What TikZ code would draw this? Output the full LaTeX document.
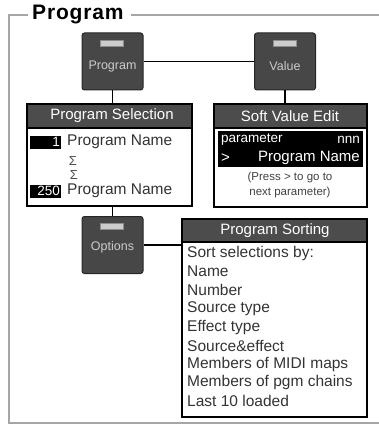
\documentclass[tikz,border=0pt]{standalone}
\usepackage{fontspec}
\setmainfont{Liberation Sans}
\usetikzlibrary{calc}
\begin{document}
\begin{tikzpicture}[x=1pt,y=-1pt,
  frameline/.style={draw=black!35, line width=1.3pt},
  btn/.style={draw=black!85, fill=black!72, rounded corners=2.5pt, line width=1pt, minimum width=61pt, minimum height=57pt, inner sep=0pt},
  slot/.style={fill=black!20, draw=black!45, line width=0.4pt, minimum width=23pt, minimum height=6pt, inner sep=0pt},
  btntext/.style={text=black!20, font=\fontsize{12.5}{13}\selectfont, inner sep=0pt},
  panel/.style={draw=black, line width=1.6pt, inner sep=0pt},
  hdr/.style={fill=black!70},
  hdrtext/.style={text=white, font=\fontsize{15}{16}\selectfont, inner sep=0pt},
  item/.style={anchor=west, inner sep=0pt, text=black!80, font=\fontsize{15.5}{16}\selectfont},
  numbox/.style={fill=black, text=white, minimum width=31pt, minimum height=13pt, inner sep=0pt, align=right, text width=29pt, text height=9.5pt, text depth=0pt, font=\fontsize{13.5}{13}\selectfont},
  small/.style={inner sep=0pt, font=\fontsize{13.5}{14}\selectfont},
  sigma/.style={inner sep=0pt, text=black!70, font=\fontsize{13}{13}\selectfont},
  conn/.style={draw=black, line width=1.3pt}
]
\useasboundingbox (0,0) rectangle (379,425);
% frame
\draw[frameline] (28,15) -- (9,15) -- (9,423) -- (379,423);
\draw[frameline] (131,15) -- (379,15);
\node[anchor=west, inner sep=0pt, font=\bfseries\fontsize{21}{21}\selectfont\addfontfeature{LetterSpace=4}] (title) at (32,15) {Program};

% panels
\node[panel, minimum width=165pt, minimum height=102pt] (psel) at (109.5,155) {};
\node[panel, minimum width=153pt, minimum height=103pt] (sve) at (290.5,155.5) {};
\node[panel, minimum width=185pt, minimum height=198pt] (psort) at (274.5,318) {};

% headers
\fill[hdr] (27,104) rectangle (192,128);
\fill[hdr] (214,104) rectangle (367,128);
\fill[hdr] (182,219) rectangle (367,242);
\draw[black, line width=1.2pt] (27,128) -- (192,128);
\draw[black, line width=1.2pt] (214,128) -- (367,128);
\draw[black, line width=1.2pt] (182,242) -- (367,242);
\node[panel, minimum width=165pt, minimum height=102pt] at (109.5,155) {};
\node[panel, minimum width=153pt, minimum height=103pt] at (290.5,155.5) {};
\node[panel, minimum width=185pt, minimum height=198pt] at (274.5,318) {};
\node[hdrtext] (pselh) at (112,116) {Program Selection};
\node[hdrtext] (sveh) at (290,116) {Soft Value Edit};
\node[hdrtext] (psorth) at (275,231) {Program Sorting};

% program selection content
\node[numbox] (n1) at (45.5,142) {1};
\node[item] (pn1) at (67,142) {Program Name};
\node[sigma] (s1) at (73,161) {Σ};
\node[sigma] (s2) at (74,175) {Σ};
\node[numbox] (n250) at (45.5,191) {250};
\node[item] (pn250) at (67,191) {Program Name};

% soft value edit content
\fill[black] (218,131) rectangle (363,167);
\node[small, anchor=west, text=white] (par) at (221,140) {parameter};
\node[small, anchor=east, text=white] (nnn) at (360,140) {nnn};
\node[anchor=west, inner sep=0pt, text=white, font=\fontsize{15}{16}\selectfont] (gt) at (221,158) {>};
\node[anchor=east, inner sep=0pt, text=white, font=\fontsize{15}{16}\selectfont] (pnv) at (360,158) {Program Name};
\node[small, text=black!75, font=\fontsize{11.5}{12}\selectfont] (press) at (290,178) {(Press > to go to};
\node[small, text=black!75, font=\fontsize{11.5}{12}\selectfont] (next) at (290,193) {next parameter)};

% program sorting content
\node[item] (i0) at (187,253) {Sort selections by:};
\node[item] (i1) at (187,271.5) {Name};
\node[item] (i2) at (187,290) {Number};
\node[item] (i3) at (187,308.5) {Source type};
\node[item] (i4) at (187,327) {Effect type};
\node[item] (i5) at (187,345.5) {Source\&effect};
\node[item] (i6) at (187,364) {Members of MIDI maps};
\node[item] (i7) at (187,382.5) {Members of pgm chains};
\node[item] (i8) at (187,401) {Last 10 loaded};

% buttons
\node[btn] (prog) at (112.5,61.5) {};
\node[btn] (val) at (285,61.5) {};
\node[btn] (opt) at (112.5,245) {};
\node[slot] (slp) at (112,43) {};
\node[slot] (slv) at (285,43) {};
\node[slot] (slo) at (112,226) {};
\node[btntext] (tp) at (112.5,66) {Program};
\node[btntext] (tv) at (285,66) {Value};
\node[btntext] (to) at (112.5,247) {Options};

% connectors
\draw[conn] (prog.east) -- (val.west);
\draw[conn] (prog.south) -- (prog.south |- psel.north);
\draw[conn] (val.south) -- (val.south |- sve.north);
\draw[conn] (psel.south -| opt.north) -- (opt.north);
\draw[conn] (opt.east) -- (opt.east -| psort.west);
\end{tikzpicture}
\end{document}
